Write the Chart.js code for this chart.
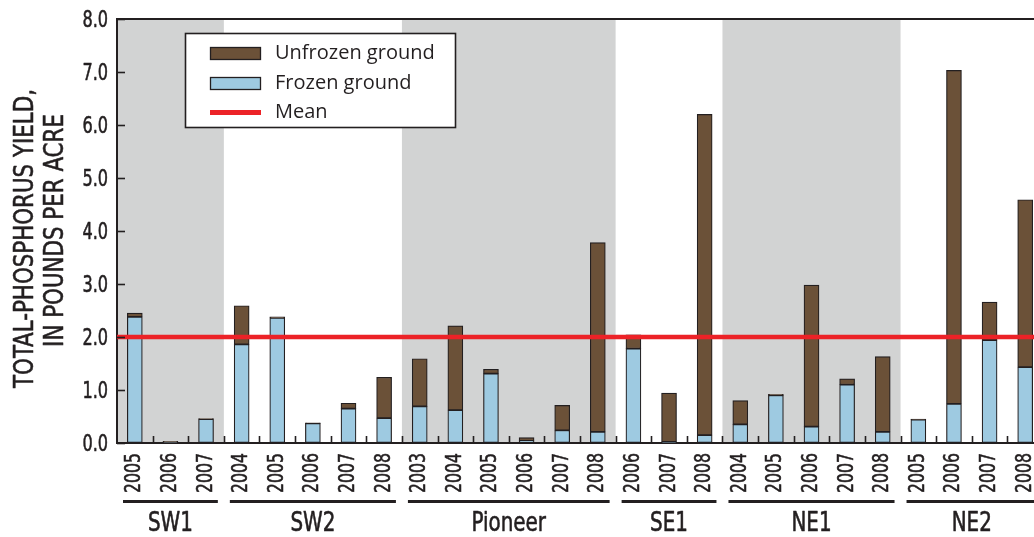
<!DOCTYPE html>
<html><head><meta charset="utf-8">
<script src="https://cdn.jsdelivr.net/npm/chart.js@4/dist/chart.umd.min.js"></script>
<style>
html,body{margin:0;padding:0;background:#fff;overflow:hidden;width:1034px;height:537px;}
#wrap{position:relative;width:1043px;height:537px;}
canvas{display:block;}
</style></head><body>
<div id="wrap"><canvas id="c" width="1043" height="537"></canvas></div>
<script>
// ---- data ----
const sites = ['SW1','SW1','SW1',
  'SW2','SW2','SW2','SW2','SW2',
  'Pioneer','Pioneer','Pioneer','Pioneer','Pioneer','Pioneer',
  'SE1','SE1','SE1',
  'NE1','NE1','NE1','NE1','NE1',
  'NE2','NE2','NE2','NE2'];
const years = ['2005','2006','2007',
  '2004','2005','2006','2007','2008',
  '2003','2004','2005','2006','2007','2008',
  '2006','2007','2008',
  '2004','2005','2006','2007','2008',
  '2005','2006','2007','2008'];
const frozen = [2.38,0.01,0.45,
  1.86,2.36,0.37,0.65,0.47,
  0.69,0.62,1.31,0.04,0.24,0.21,
  1.78,0.02,0.15,
  0.35,0.90,0.31,1.10,0.21,
  0.44,0.74,1.94,1.43];
const unfrozen = [0.07,0.02,0.01,
  0.73,0.02,0.01,0.10,0.77,
  0.90,1.59,0.08,0.06,0.47,3.57,
  0.26,0.92,6.05,
  0.45,0.02,2.67,0.11,1.42,
  0.01,6.29,0.72,3.16];
const shadedSites = ['SW1','Pioneer','NE1'];
const meanYield = 2.0;
const yTickValues = [0,1,2,3,4,5,6,7,8];
const yTitle = ['TOTAL-PHOSPHORUS YIELD,','IN POUNDS PER ACRE'];
const legendLabels = ['Unfrozen ground','Frozen ground','Mean'];

// ---- style ----
const BROWN = '#6b5138', BLUE = '#9ecae1', RED = '#ec2227', GRAY = '#d2d3d3', INK = '#231f20';
const NARROW = "condensed {S}px 'DejaVu Sans',sans-serif";
const LEGFONT = "'Open Sans','Noto Sans',sans-serif";
const nf = s => NARROW.replace('{S}', s);

function groupSpans(xs){
  const out=[]; let start=0;
  const w = xs.getPixelForValue(1)-xs.getPixelForValue(0);
  for(let i=1;i<=sites.length;i++){
    if(i===sites.length || sites[i]!==sites[start]){
      out.push({name:sites[start], left:xs.getPixelForValue(start)-w/2, right:xs.getPixelForValue(i-1)+w/2});
      start=i;
    }
  }
  return out;
}
function fitScale(ctx, font, sample, target){
  ctx.save(); ctx.font = font; const m = ctx.measureText(sample).width; ctx.restore();
  return m > 0 ? Math.min(1, target/m) : 1;
}
function txt(ctx, s, x, y, font, sx, align, rot){
  ctx.save(); ctx.translate(x, y); if(rot) ctx.rotate(rot); ctx.scale(sx, 1);
  ctx.font = font; ctx.textAlign = align; ctx.textBaseline = 'alphabetic';
  ctx.fillStyle = INK; ctx.strokeStyle = INK; ctx.lineWidth = 0.55; ctx.lineJoin = 'round';
  ctx.fillText(s, 0, 0); ctx.strokeText(s, 0, 0); ctx.restore();
}

const decor = {
  id:'decor',
  beforeDraw(chart){
    const {ctx, chartArea:a, scales:{x}} = chart;
    ctx.save();
    ctx.fillStyle = GRAY;
    groupSpans(x).forEach(g=>{
      if(shadedSites.includes(g.name)) ctx.fillRect(g.left, a.top, g.right-g.left, a.bottom-a.top);
    });
    ctx.restore();
  },
  afterDatasetsDraw(chart){
    const {ctx, chartArea:a, scales:{y}} = chart;
    ctx.save();
    const my = y.getPixelForValue(meanYield);
    ctx.strokeStyle = RED; ctx.lineWidth = 4.5;
    ctx.beginPath(); ctx.moveTo(a.left, my); ctx.lineTo(chart.width, my); ctx.stroke();
    ctx.restore();
  },
  afterDraw(chart){
    const {ctx, chartArea:a, scales:{x,y}} = chart;
    ctx.save();
    ctx.strokeStyle = INK;
    ctx.lineWidth = 2;
    ctx.beginPath(); ctx.moveTo(a.left-1, a.top); ctx.lineTo(chart.width, a.top); ctx.stroke();
    ctx.lineWidth = 1.6;
    yTickValues.forEach(v=>{
      const py = Math.round(y.getPixelForValue(v))+0.5;
      ctx.beginPath(); ctx.moveTo(a.left, py); ctx.lineTo(a.left+8, py); ctx.stroke();
    });
    const w = x.getPixelForValue(1)-x.getPixelForValue(0);
    for(let i=1;i<years.length;i++){
      const px = Math.round(x.getPixelForValue(i)-w/2)+0.5;
      ctx.beginPath(); ctx.moveTo(px, a.bottom); ctx.lineTo(px, a.bottom-7); ctx.stroke();
    }
    const fy = nf(23), sy = fitScale(ctx, fy, '8.0', 25.6);
    yTickValues.forEach(v=>{
      txt(ctx, v.toFixed(1), a.left-9, y.getPixelForValue(v)+8, fy, sy, 'right', 0);
    });
    const fx = nf(21.5), sxx = fitScale(ctx, fx, '2005', 40);
    years.forEach((yr,i)=>{
      txt(ctx, yr, x.getPixelForValue(i)+5.5, a.bottom+10, fx, sxx, 'right', -Math.PI/2);
    });
    const ft = nf(27), st = fitScale(ctx, ft, yTitle[0], 299);
    txt(ctx, yTitle[0], 33.3, 238.5, ft, st, 'center', -Math.PI/2);
    txt(ctx, yTitle[1], 63, 230.5, ft, st, 'center', -Math.PI/2);
    ctx.lineWidth = 2.8;
    const fg = nf(26), sg = fitScale(ctx, fg, 'SW1', 45);
    groupSpans(x).forEach(g=>{
      ctx.beginPath(); ctx.moveTo(g.left+6, 501.5); ctx.lineTo(g.right-6, 501.5); ctx.stroke();
      txt(ctx, g.name, (g.left+g.right)/2, 531, fg, sg, 'center', 0);
    });
    const lx = a.left+68, ly = a.top+14;
    ctx.fillStyle = '#fff';
    ctx.fillRect(lx, ly, 270, 94);
    ctx.lineWidth = 1.6; ctx.strokeStyle = INK;
    ctx.strokeRect(lx+0.5, ly+0.5, 270, 94);
    const sw = [{c:BROWN,y:ly+14},{c:BLUE,y:ly+44}];
    ctx.lineWidth = 1.3;
    sw.forEach(s=>{
      ctx.fillStyle = s.c; ctx.fillRect(lx+25, s.y, 51, 13);
      ctx.strokeRect(lx+25.5, s.y+0.5, 50, 12);
    });
    ctx.strokeStyle = RED; ctx.lineWidth = 5;
    ctx.beginPath(); ctx.moveTo(lx+25, ly+79.5); ctx.lineTo(lx+76, ly+79.5); ctx.stroke();
    ctx.fillStyle = INK; ctx.font = "20px " + LEGFONT; ctx.textAlign='left'; ctx.textBaseline='middle';
    ctx.fillText(legendLabels[0], lx+90, ly+20);
    ctx.fillText(legendLabels[1], lx+90, ly+50);
    ctx.fillText(legendLabels[2], lx+90, ly+79);
    ctx.restore();
  }
};

new Chart(document.getElementById('c'), {
  type:'bar',
  data:{
    labels: years,
    datasets:[
      {label:'Frozen ground', data: frozen, backgroundColor: BLUE, borderColor: INK, borderWidth: 1.2, borderSkipped:false, barThickness:15},
      {label:'Unfrozen ground', data: unfrozen, backgroundColor: BROWN, borderColor: INK, borderWidth: 1.2, borderSkipped:false, barThickness:15}
    ]
  },
  options:{
    responsive:false, animation:false, devicePixelRatio:1,
    layout:{padding:{top:19,left:0,right:0,bottom:0}},
    plugins:{legend:{display:false}, tooltip:{enabled:false}},
    scales:{
      x:{
        stacked:true, offset:true,
        grid:{display:true, drawOnChartArea:false, drawTicks:false},
        border:{display:true, color:INK, width:2},
        ticks:{display:false, autoSkip:false},
        afterFit(s){ s.height = 94; s.paddingLeft=0; s.paddingRight=0; }
      },
      y:{
        stacked:true, min:0, max:8,
        grid:{display:true, drawOnChartArea:false, drawTicks:false},
        border:{display:true, color:INK, width:2},
        ticks:{display:false, stepSize:1},
        afterFit(s){ s.width = 117; s.paddingTop=0; s.paddingBottom=0; }
      }
    }
  },
  plugins:[decor]
});
</script>
</body></html>
